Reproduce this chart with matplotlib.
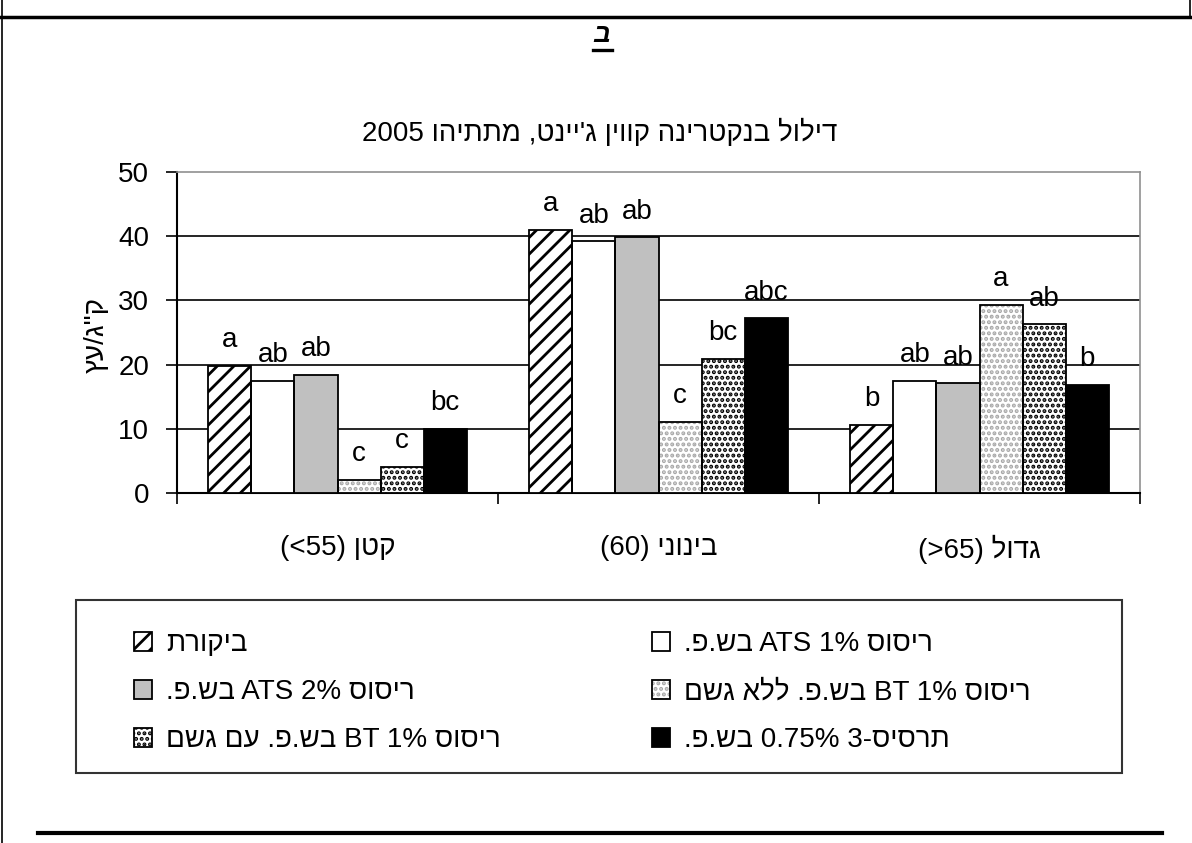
import re
import matplotlib
matplotlib.use("Agg")
import matplotlib.pyplot as plt
from matplotlib.patches import Patch, Rectangle
from matplotlib.lines import Line2D
import numpy as np

plt.rcParams['font.family'] = ['Liberation Sans', 'DejaVu Sans']
plt.rcParams['hatch.linewidth'] = 2.0


def rtl(s):
    # matplotlib does no bidi, so flip the Hebrew and keep latin/number runs
    r = s[::-1]
    r = re.sub(r'[A-Za-z0-9%.<>]+', lambda m: m.group(0)[::-1], r)
    return r.translate(str.maketrans('()', ')('))


title = "דילול בנקטרינה קווין ג'יינט, מתתיהו 2005"
ylabel = 'ק"ג/עץ'
sizes = ['קטן (<55)', 'בינוני (60)', 'גדול (>65)']
treatments = ['ביקורת',
              'ריסוס 1% ATS בש.פ.',
              'ריסוס 2% ATS בש.פ.',
              'ריסוס 1% BT בש.פ. ללא גשם',
              'ריסוס 1% BT בש.פ. עם גשם',
              'תרסיס-3 0.75% בש.פ.']

control = [19.8, 41.0, 10.6]
ats1 = [17.5, 39.2, 17.5]
ats2 = [18.4, 39.8, 17.1]
bt_dry = [2.1, 11.1, 29.3]
bt_rain = [4.1, 20.9, 26.3]
tersis = [10.0, 27.2, 16.9]

control_let = ['a', 'a', 'b']
ats1_let = ['ab', 'ab', 'ab']
ats2_let = ['ab', 'ab', 'ab']
bt_dry_let = ['c', 'c', 'a']
bt_rain_let = ['c', 'bc', 'ab']
tersis_let = ['bc', 'abc', 'b']

values = [control, ats1, ats2, bt_dry, bt_rain, tersis]
letters = [control_let, ats1_let, ats2_let, bt_dry_let, bt_rain_let, tersis_let]

fills = ['white', 'white', '#c0c0c0', 'white', 'white', 'black']
hatches = ['//', None, None, '...', '...', None]
hatch_colors = ['black', 'white', '#c0c0c0', '#a8a8a8', 'black', 'black']

fig = plt.figure(figsize=(11.92, 8.43), dpi=100)
W, H = 1192, 843
ax = fig.add_axes([177 / W, 1 - 493 / H, (1140 - 177) / W, (493 - 172) / H])

x = np.arange(len(sizes))
w = 0.134
for i, (vals, labs) in enumerate(zip(values, letters)):
    pos = x + (i - 2.5) * w
    ax.bar(pos, vals, w, color=fills[i], hatch=hatches[i],
           edgecolor=hatch_colors[i], linewidth=0, zorder=3)
    ax.bar(pos, vals, w, fill=False, edgecolor='black', linewidth=1.3, zorder=4)
    for p, v, t in zip(pos, vals, labs):
        ax.annotate(t, (p, v), xytext=(0, 9), textcoords='offset points',
                    ha='center', va='bottom', fontsize=20)

ax.set_xlim(-0.5, 2.5)
ax.set_ylim(0, 50)
ax.set_yticks(range(0, 51, 10))
ax.yaxis.grid(True, color='black', linewidth=1.2)
ax.set_axisbelow(True)
for gl, t in zip(ax.yaxis.get_gridlines(), ax.get_yticks()):
    if t == 50:
        gl.set_visible(False)
ax.set_xticks([-0.5, 0.5, 1.5, 2.5])
ax.set_xticklabels([])
ax.set_xticks(x, minor=True)
ax.set_xticklabels([rtl(s) for s in sizes], minor=True, fontsize=20)
ax.tick_params(axis='x', which='minor', length=0, pad=30)
ax.tick_params(axis='x', which='major', length=8, width=1.2, direction='out')
ax.tick_params(axis='y', length=8, width=1.2, pad=12, labelsize=20)
for s in ['top', 'right']:
    ax.spines[s].set_color('#909090')
    ax.spines[s].set_linewidth(1.2)
for s in ['left', 'bottom']:
    ax.spines[s].set_linewidth(1.5)

fig.text(97 / W, 1 - 335 / H, rtl(ylabel), rotation=90, ha='center', va='center', fontsize=20)
fig.text(600 / W, 1 - 133 / H, rtl(title), ha='center', va='center', fontsize=20)
fig.text(602 / W, 1 - 35 / H, 'ב', ha='center', va='center', fontsize=19,
         fontweight='bold', fontstyle='italic')

# page frame lines
fig.add_artist(Line2D([593 / W, 612 / W], [1 - 50 / H] * 2, color='black', lw=2.4))
fig.add_artist(Line2D([0, 1], [1 - 17 / H] * 2, color='black', lw=2.5))
fig.add_artist(Line2D([2 / W, 2 / W], [0, 1], color='black', lw=1.2))
fig.add_artist(Line2D([1190 / W, 1190 / W], [1 - 17 / H, 1], color='black', lw=1.2))
fig.add_artist(Line2D([38 / W, 1162 / W], [1 - 833 / H] * 2, color='black', lw=3))

# legend
fig.add_artist(Rectangle((76 / W, 1 - 773 / H), (1122 - 76) / W, (773 - 600) / H,
                         transform=fig.transFigure, fill=False, edgecolor='#333333', lw=1.5))


def handle(i):
    return (Patch(facecolor=fills[i], hatch=hatches[i], edgecolor=hatch_colors[i], linewidth=0),
            Patch(fill=False, edgecolor='black', linewidth=1.3))


for idx, x0 in (([0, 2, 4], 134), ([1, 3, 5], 652)):
    fig.legend([handle(i) for i in idx], [rtl(treatments[i]) for i in idx],
               loc='upper left', bbox_to_anchor=(x0 / W, 1 - 631 / H), frameon=False,
               fontsize=20, handlelength=0.65, handleheight=0.65, handletextpad=0.5,
               labelspacing=0.8, borderpad=0, borderaxespad=0)

fig.savefig('out.png', dpi=100)
